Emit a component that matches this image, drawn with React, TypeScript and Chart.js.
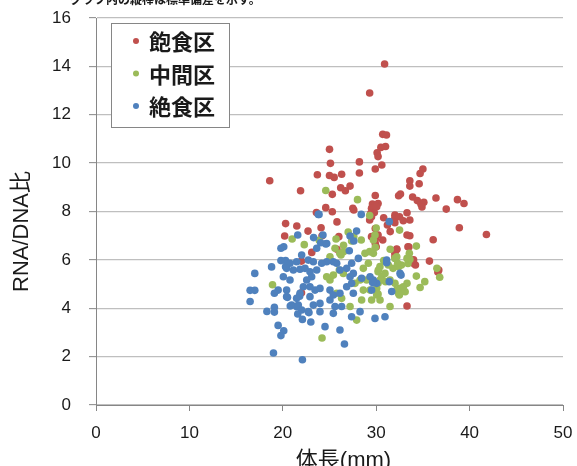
import React, { useEffect, useRef } from "react";
import { Chart, registerables } from "chart.js";

Chart.register(...registerables);

const seriesNames = ["飽食区", "中間区", "絶食区"];
const seriesColors = ["#C0504D", "#9BBB59", "#4F81BD"];
const xAxisTitle = "体長(mm)";
const yAxisTitle = "RNA/DNA比";
const noteText = "グラフ内の縦棒は標準偏差を示す。";
const xMin = 0;
const xMax = 50;
const xStep = 10;
const yMin = 0;
const yMax = 16;
const yStep = 2;

// 飽食区 (fed): [body length mm, RNA/DNA]
const fedPoints: [number, number][] = [
  [18.6, 9.27], [21.9, 8.86], [25.0, 10.57], [25.1, 9.99], [23.7, 9.52], [25.0, 9.49], [25.5, 9.41],
  [26.3, 9.54], [28.2, 10.05], [28.2, 9.59], [29.9, 9.76], [30.6, 9.92], [30.1, 10.43], [30.2, 10.27],
  [30.5, 10.65], [31.0, 10.69], [30.7, 11.19], [31.1, 11.16], [30.9, 14.1], [29.3, 12.9],
  [26.2, 8.98], [26.7, 8.86], [27.2, 9.05], [25.3, 8.71], [29.9, 8.66], [24.6, 8.16], [25.3, 7.99],
  [23.6, 7.96], [27.5, 8.13], [27.6, 8.06], [29.6, 8.31], [30.2, 8.33], [29.5, 8.13], [29.8, 7.96],
  [29.5, 7.78], [30.8, 7.74], [32.0, 7.85], [32.0, 7.72], [32.5, 7.78], [33.3, 7.95], [33.6, 7.65],
  [32.9, 7.62], [32.4, 8.65], [32.6, 8.72], [33.6, 9.27], [33.6, 9.05], [34.6, 9.15], [34.7, 9.57],
  [35.0, 9.76], [33.9, 8.6], [34.4, 8.45], [34.8, 8.3], [35.1, 8.38], [34.9, 8.19], [36.4, 8.56],
  [37.5, 8.1], [38.7, 8.49], [39.4, 8.33], [38.9, 7.33], [41.8, 7.05], [36.1, 6.83], [20.3, 7.5],
  [20.2, 6.99], [22.7, 7.19], [24.1, 7.33], [25.8, 7.57], [26.0, 6.96], [30.7, 6.82], [29.9, 6.68],
  [31.5, 7.17], [31.2, 7.44], [32.0, 7.54], [33.3, 7.03], [33.6, 7.0], [33.5, 6.53], [21.5, 7.4],
  [24.2, 7.0], [23.1, 6.31], [25.8, 6.44], [22.0, 4.64], [29.3, 7.65], [29.9, 7.3], [30.2, 7.03],
  [29.9, 6.85], [29.5, 6.96], [30.0, 6.54], [32.2, 6.43], [32.0, 6.13], [33.4, 6.54], [34.0, 6.0],
  [34.2, 5.79], [35.7, 5.95], [36.7, 5.58], [33.3, 4.09], [30.05, 8.2], [29.4, 7.92], [32.2, 6.45],
  [32.0, 6.27], [22.0, 5.95], [36.6, 5.5], [33.97, 5.86],
];

// 中間区 (intermediate)
const midPoints: [number, number][] = [
  [24.6, 8.87], [28.0, 8.49], [29.3, 7.83], [30.0, 7.32], [32.5, 7.23], [21.0, 6.86], [22.3, 6.63],
  [23.9, 6.81], [25.7, 6.86], [27.0, 7.15], [27.6, 6.96], [26.5, 6.6], [34.3, 6.57], [31.5, 6.44],
  [18.9, 4.97], [29.9, 6.52], [29.7, 6.27], [32.0, 6.06], [32.2, 6.13], [33.55, 6.27], [33.6, 6.02],
  [33.4, 5.85], [30.8, 5.97], [30.4, 5.72], [30.2, 5.51], [31.3, 5.79], [31.8, 5.65], [32.4, 5.72],
  [32.7, 5.79], [30.6, 5.3], [31.0, 5.1], [30.2, 5.03], [34.3, 5.33], [36.5, 5.65], [36.8, 5.28],
  [35.2, 5.1], [34.7, 4.86], [33.3, 5.03], [32.55, 4.82], [33.1, 4.68], [32.4, 4.61], [30.05, 4.82],
  [30.2, 4.59], [26.1, 6.27], [26.5, 6.34], [28.8, 6.27], [29.3, 6.34], [28.4, 6.82], [29.7, 6.82],
  [33.3, 6.06], [32.3, 5.86], [29.87, 7.03], [27.37, 6.78], [26.23, 6.2], [25.59, 6.48], [25.05, 6.13],
  [28.62, 5.65], [29.16, 5.86], [30.23, 5.58], [30.94, 5.44], [30.41, 5.17], [28.98, 5.17],
  [28.27, 5.17], [27.73, 5.03], [28.62, 4.75], [29.34, 4.75], [30.05, 4.55], [30.41, 4.34],
  [29.51, 4.34], [28.44, 4.34], [31.48, 5.17], [32.01, 5.03], [32.19, 4.75], [32.9, 4.89],
  [32.48, 4.55], [31.48, 4.07], [27.91, 3.51], [27.2, 4.07], [26.3, 4.41], [25.77, 4.62],
  [25.05, 5.17], [24.7, 5.3], [25.41, 5.37], [26.05, 5.58], [26.48, 5.44], [24.2, 2.77],
];

// 絶食区 (starved)
const starvedPoints: [number, number][] = [
  [23.8, 7.88], [28.4, 7.88], [31.4, 7.58], [21.6, 7.03], [23.3, 6.92], [24.3, 7.03], [24.6, 6.66],
  [27.9, 7.19], [27.6, 6.78], [20.1, 6.54], [19.8, 5.97], [20.3, 5.97], [20.3, 5.72], [18.8, 5.71],
  [17.0, 5.44], [19.5, 4.75], [16.5, 4.74], [17.0, 4.74], [16.5, 4.28], [19.1, 4.62], [19.1, 4.04],
  [18.3, 3.87], [19.1, 3.84], [19.5, 3.29], [20.1, 3.07], [19.8, 2.87], [19.0, 2.15], [20.5, 4.45],
  [20.8, 4.09], [21.8, 4.5], [22.1, 1.87], [21.5, 4.06], [21.6, 3.76], [22.1, 3.54], [22.8, 3.82],
  [24.05, 6.71], [24.7, 6.68], [23.63, 6.48], [27.2, 6.99], [27.12, 6.38], [28.09, 6.06],
  [27.37, 5.86], [26.84, 5.65], [26.12, 5.58], [25.77, 5.86], [25.41, 5.92], [24.7, 5.92],
  [24.16, 5.86], [23.27, 5.92], [22.73, 5.99], [22.02, 6.2], [21.48, 5.92], [20.77, 5.86],
  [20.41, 5.65], [21.13, 5.58], [21.84, 5.61], [22.38, 5.65], [22.91, 5.51], [23.63, 5.58],
  [23.09, 5.3], [22.56, 5.17], [22.2, 4.89], [21.84, 4.62], [21.48, 4.41], [20.95, 4.13],
  [21.66, 4.13], [22.02, 3.93], [22.91, 4.48], [23.45, 4.75], [23.98, 4.82], [22.91, 4.89],
  [25.05, 4.75], [25.41, 4.55], [25.05, 4.34], [26.12, 4.62], [26.84, 4.89], [27.37, 5.03],
  [27.2, 5.3], [27.55, 5.44], [28.44, 5.24], [29.34, 5.3], [29.69, 5.17], [30.05, 5.03],
  [29.51, 4.75], [27.55, 4.62], [26.3, 4.07], [25.59, 4.07], [23.98, 4.2], [23.27, 4.13],
  [22.73, 3.86], [20.41, 4.75], [20.41, 4.48], [20.77, 5.17], [20.06, 5.3], [32.55, 5.44],
  [31.12, 5.99], [23.98, 3.86], [25.41, 3.79], [27.37, 3.65], [28.27, 3.86], [29.87, 3.58],
  [30.94, 3.65], [24.52, 3.24], [26.12, 3.1], [32.66, 5.37], [29.62, 5.06], [31.4, 5.1],
  [31.66, 4.69], [26.6, 2.52], [23.0, 3.43], [19.8, 6.48], [23.88, 7.88], [31.12, 5.88],
];

const seriesPoints = [fedPoints, midPoints, starvedPoints];

const AXIS_GRAY = "#868686";
const GRID_GRAY = "#BFBFBF";
const TEXT = "#1a1a1a";
const LATIN_CJK = "'Liberation Sans', 'Noto Sans CJK JP', sans-serif";
const CJK = "'Noto Sans CJK JP', 'Liberation Sans', sans-serif";

const overlayPlugin = {
  id: "overlay",
  afterDraw(chart: any) {
    const { ctx, chartArea } = chart;
    ctx.save();
    // clipped note at top
    ctx.fillStyle = TEXT;
    ctx.font = `bold 12px ${CJK}`;
    ctx.textAlign = "left";
    ctx.textBaseline = "alphabetic";
    ctx.fillText(noteText, 70, 4);

    // y axis title
    ctx.save();
    ctx.translate(22, (chartArea.top + chartArea.bottom) / 2 + 20);
    ctx.rotate(-Math.PI / 2);
    ctx.textAlign = "center";
    ctx.textBaseline = "middle";
    ctx.font = `22px ${LATIN_CJK}`;
    ctx.fillText(yAxisTitle, 0, 0);
    ctx.restore();

    // x axis title
    ctx.textAlign = "center";
    ctx.textBaseline = "middle";
    ctx.font = `22px ${LATIN_CJK}`;
    ctx.fillText(xAxisTitle, (chartArea.left + chartArea.right) / 2 + 14, chartArea.bottom + 56);

    // legend box
    const bx = chartArea.left + 15;
    const by = chartArea.top + 5;
    const bw = 118;
    const bh = 104;
    ctx.fillStyle = "#ffffff";
    ctx.fillRect(bx, by, bw, bh);
    ctx.strokeStyle = AXIS_GRAY;
    ctx.lineWidth = 1;
    ctx.strokeRect(bx + 0.5, by + 0.5, bw, bh);
    ctx.font = `bold 22px ${CJK}`;
    ctx.textAlign = "left";
    ctx.textBaseline = "middle";
    seriesNames.forEach((name, i) => {
      const cy = by + 18 + i * 32.5;
      ctx.fillStyle = seriesColors[i];
      ctx.beginPath();
      ctx.arc(bx + 25, cy, 3, 0, Math.PI * 2);
      ctx.fill();
      ctx.fillStyle = TEXT;
      ctx.fillText(name, bx + 38, cy + 1);
    });
    ctx.restore();
  },
};

export default function App() {
  const canvasRef = useRef<HTMLCanvasElement | null>(null);

  useEffect(() => {
    const canvas = canvasRef.current;
    if (!canvas) return;
    const datasets = seriesNames.map((name, i) => ({
      label: name,
      data: seriesPoints[i].map(([x, y]) => ({ x, y })),
      backgroundColor: seriesColors[i],
      borderWidth: 0,
      pointRadius: 3.8,
      pointHoverRadius: 3.8,
      order: 3 - i,
    }));
    const chart = new Chart(canvas, {
      type: "scatter",
      data: { datasets },
      options: {
        responsive: false,
        animation: false,
        devicePixelRatio: 1,
        layout: { padding: { top: 18, right: 14, left: 0, bottom: 0 } },
        plugins: {
          legend: { display: false },
          tooltip: { enabled: false },
          title: { display: false },
        },
        scales: {
          x: {
            type: "linear",
            min: xMin,
            max: xMax,
            ticks: {
              stepSize: xStep,
              color: TEXT,
              font: { family: LATIN_CJK, size: 17 },
              padding: 12,
              maxRotation: 0,
            },
            grid: {
              drawOnChartArea: false,
              drawTicks: true,
              tickLength: 6,
              tickColor: AXIS_GRAY,
            },
            border: { display: true, color: AXIS_GRAY, width: 1 },
            afterFit: (s: any) => {
              s.height = 61;
              s.paddingLeft = 0;
              s.paddingRight = 0;
            },
          },
          y: {
            type: "linear",
            min: yMin,
            max: yMax,
            ticks: {
              stepSize: yStep,
              color: TEXT,
              font: { family: LATIN_CJK, size: 17 },
              padding: 18,
            },
            grid: {
              color: GRID_GRAY,
              lineWidth: 1.3,
              drawTicks: true,
              tickLength: 7,
              tickColor: AXIS_GRAY,
              tickWidth: 1,
            },
            border: { display: true, color: AXIS_GRAY, width: 1 },
            afterFit: (s: any) => {
              s.width = 96;
              s.paddingTop = 0;
              s.paddingBottom = 0;
            },
          },
        },
      },
      plugins: [overlayPlugin],
    });
    return () => chart.destroy();
  }, []);

  return (
    <div
      style={{
        position: "absolute",
        left: 0,
        top: 0,
        width: 577,
        height: 466,
        overflow: "hidden",
        background: "#fff",
      }}
    >
      <canvas ref={canvasRef} width={577} height={466} style={{ display: "block", width: 577, height: 466 }} />
    </div>
  );
}
